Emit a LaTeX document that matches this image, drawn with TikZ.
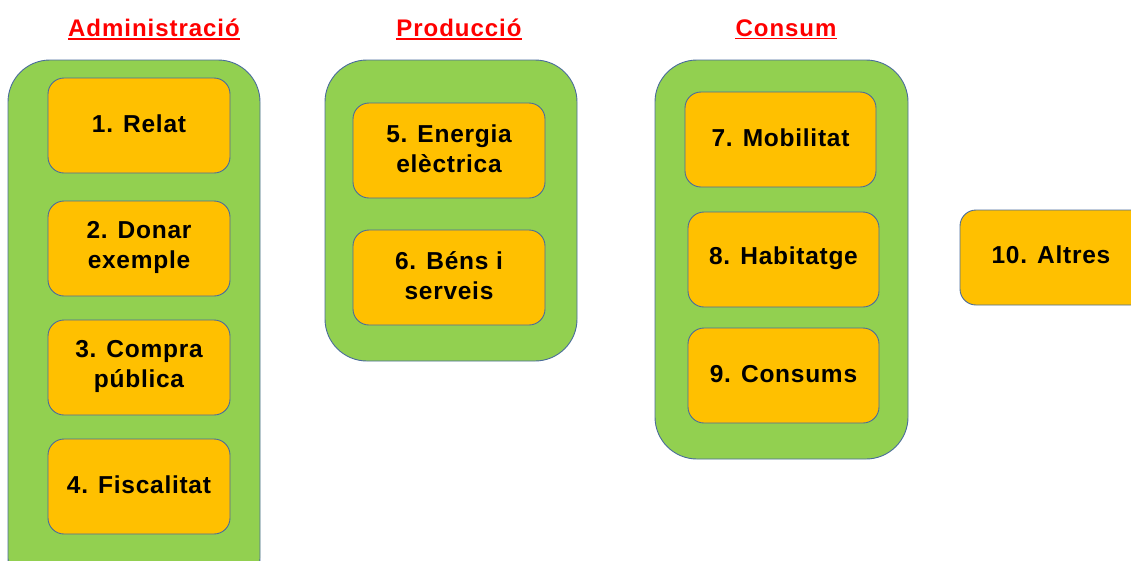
\documentclass[tikz,border=0pt]{standalone}
\usepackage{fontspec}
\setmainfont{Liberation Sans}
\newfontfamily\spaced[LetterSpace=3]{Liberation Sans}
\newfontfamily\tspaced[LetterSpace=4]{Liberation Sans}
\definecolor{grn}{HTML}{92D050}
\definecolor{org}{HTML}{FFC000}
\definecolor{edge}{HTML}{4A6C9B}
\definecolor{ttl}{HTML}{FF0000}
\tikzset{
  group/.style={draw=edge, fill=grn, line width=0.9pt, rounded corners=42pt},
  item/.style={draw=edge, fill=org, line width=0.9pt, rounded corners=16pt},
  lbl/.style={font=\spaced\fontsize{24.5}{30}\selectfont\bfseries, align=center, text=black},
  title/.style={font=\tspaced\fontsize{24}{28}\selectfont\bfseries, text=ttl, text depth=0pt, inner xsep=0pt, inner ysep=2pt},
  uline/.style={draw=ttl, line width=1.6pt}
}
\begin{document}
\begin{tikzpicture}[x=1pt,y=-1pt]
\useasboundingbox (0,0) rectangle (1131,560);
\clip (0,0) rectangle (1131,560);
% titles
\node[title] (t1) at (154,28) {Administració};
\node[title] (t2) at (459,28) {Producció};
\node[title] (t3) at (786,28) {Consum};
\draw[uline] (t1.south west) -- (t1.south east);
\draw[uline] (t2.south west) -- (t2.south east);
\draw[uline] (t3.south west) -- (t3.south east);
% groups
\draw[group] (8,60) rectangle (260,600);
\draw[group] (325,60) rectangle (577,361);
\draw[group] (655,60) rectangle (908,459);
% items
\draw[item] (48,78) rectangle (230,173);
\node[lbl] (n1) at (139,124) {1. Relat};
\draw[item] (48,201) rectangle (230,296);
\node[lbl] (n2) at (139,247) {2. Donar\\exemple};
\draw[item] (48,320) rectangle (230,415);
\node[lbl] (n3) at (139,366) {3. Compra\\pública};
\draw[item] (48,439) rectangle (230,534);
\node[lbl] (n4) at (139,485) {4. Fiscalitat};
\draw[item] (353,103) rectangle (545,198);
\node[lbl] (n5) at (449,149) {5. Energia\\elèctrica};
\draw[item] (353,230) rectangle (545,325);
\node[lbl] (n6) at (449,276) {6. Béns i\\serveis};
\draw[item] (685,92) rectangle (876,187);
\node[lbl] (n7) at (780.5,138) {7. Mobilitat};
\draw[item] (688,212) rectangle (879,307);
\node[lbl] (n8) at (783.5,258) {8. Habitatge};
\draw[item] (688,328) rectangle (879,423);
\node[lbl] (n9) at (783.5,374) {9. Consums};
\draw[item] (960,210) rectangle (1160,305);
\node[lbl] (n10) at (1051,255) {10. Altres};
\end{tikzpicture}
\end{document}
